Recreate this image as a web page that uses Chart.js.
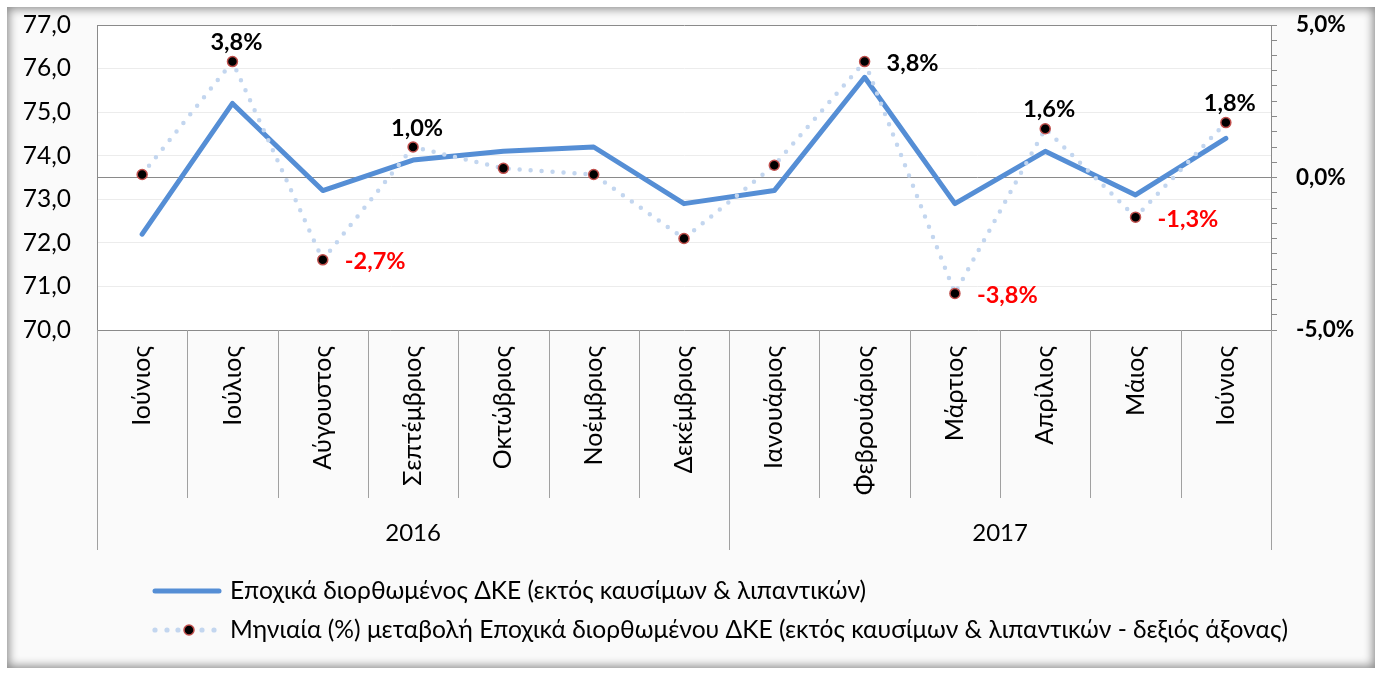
<!DOCTYPE html>
<html>
<head>
<meta charset="utf-8">
<script src="https://cdn.jsdelivr.net/npm/chart.js@4/dist/chart.umd.min.js"></script>
<style>
  html, body { margin: 0; padding: 0; background: #fff; }
  #frame {
    position: absolute; left: 7px; top: 7px; width: 1368px; height: 661px;
    background: #fafafa;
    box-shadow: inset 0 0 10px 2px rgba(0,0,0,0.45);
  }
  #frame canvas { position: absolute; left: 0; top: 0; }
</style>
</head>
<body>
<div id="frame"><canvas id="cpiChart" width="1368" height="661"></canvas></div>
<script>
// months on the category axis, and the year each one belongs to
const months = ['Ιούνιος', 'Ιούλιος', 'Αύγουστος', 'Σεπτέμβριος', 'Οκτώβριος', 'Νοέμβριος', 'Δεκέμβριος',
                'Ιανουάριος', 'Φεβρουάριος', 'Μάρτιος', 'Απρίλιος', 'Μάιος', 'Ιούνιος'];
const monthYears = ['2016', '2016', '2016', '2016', '2016', '2016', '2016',
                    '2017', '2017', '2017', '2017', '2017', '2017'];

// seasonally adjusted index (left axis) and monthly % change (right axis)
const cpiSa = [72.2, 75.2, 73.2, 73.9, 74.1, 74.2, 72.9, 73.2, 75.8, 72.9, 74.1, 73.1, 74.4];
const cpiChange = [0.1, 3.8, -2.7, 1.0, 0.3, 0.1, -2.0, 0.4, 3.8, -3.8, 1.6, -1.3, 1.8];

const seriesNames = [
  'Εποχικά διορθωμένος ΔΚΕ (εκτός καυσίμων & λιπαντικών)',
  'Μηνιαία (%) μεταβολή Εποχικά διορθωμένου ΔΚΕ (εκτός καυσίμων & λιπαντικών - δεξιός άξονας)'
];

// which % points carry a label, and where
const labelPos = [null, 'top', 'right', 'top', null, null, null, null, 'right', 'right', 'top', 'right', 'top'];

const FONT = 'Lato';
const AXIS = '#8a8a8a';
const SOLID = '#558ed5';
const DOTS = '#c3d6ef';

const fmtPct = v => v.toFixed(1).replace('.', ',') + '%';

const framePlugin = {
  id: 'frame',
  beforeDraw(chart) {
    const { ctx, chartArea: a } = chart;
    ctx.save();
    ctx.fillStyle = '#ffffff';
    ctx.fillRect(a.left, a.top, a.right - a.left, a.bottom - a.top);
    ctx.restore();
  },
  afterDraw(chart) {
    const { ctx, chartArea: a } = chart;
    const x = chart.scales.x;
    const step = x.getPixelForValue(1) - x.getPixelForValue(0);
    ctx.save();
    // separators of the two-level category axis
    ctx.strokeStyle = '#a0a0a0';
    ctx.lineWidth = 1;
    for (let b = 0; b <= months.length; b++) {
      const px = Math.round(x.getPixelForValue(0) - step / 2 + b * step) + 0.5;
      const yearEdge = b === 0 || b === months.length || monthYears[b] !== monthYears[b - 1];
      ctx.beginPath();
      ctx.moveTo(px, a.bottom);
      ctx.lineTo(px, a.bottom + (yearEdge ? 220 : 168));
      ctx.stroke();
    }
    // year labels
    ctx.fillStyle = '#000';
    ctx.font = '24px ' + FONT;
    ctx.textAlign = 'center';
    ctx.textBaseline = 'middle';
    let start = 0;
    for (let i = 1; i <= months.length; i++) {
      if (i === months.length || monthYears[i] !== monthYears[start]) {
        const cx = (x.getPixelForValue(start) + x.getPixelForValue(i - 1)) / 2;
        ctx.fillText(monthYears[start], cx, a.bottom + 203);
        start = i;
      }
    }
    // legend
    const lx = 146, ly1 = 584, ly2 = 623;
    ctx.lineCap = 'round';
    ctx.strokeStyle = SOLID;
    ctx.lineWidth = 5;
    ctx.beginPath(); ctx.moveTo(lx + 2, ly1); ctx.lineTo(lx + 66, ly1); ctx.stroke();
    ctx.fillStyle = DOTS;
    [2, 14, 25, 49, 61].forEach(d => { ctx.beginPath(); ctx.arc(lx + d, ly2, 2.6, 0, Math.PI * 2); ctx.fill(); });
    ctx.beginPath(); ctx.arc(lx + 36, ly2, 5, 0, Math.PI * 2);
    ctx.fillStyle = '#000'; ctx.fill();
    ctx.lineWidth = 1.5; ctx.strokeStyle = '#c0504d'; ctx.stroke();
    ctx.fillStyle = '#000';
    ctx.font = '24.6px ' + FONT;
    ctx.textAlign = 'left';
    ctx.fillText(seriesNames[0], lx + 77, ly1);
    ctx.fillText(seriesNames[1], lx + 77, ly2);
    ctx.restore();
  }
};

const pctLabels = {
  id: 'pctLabels',
  afterDatasetsDraw(chart) {
    const { ctx } = chart;
    const meta = chart.getDatasetMeta(0);
    ctx.save();
    ctx.font = 'bold 23.5px ' + FONT;
    ctx.textBaseline = 'middle';
    meta.data.forEach((pt, i) => {
      const pos = labelPos[i];
      if (!pos) return;
      const v = cpiChange[i];
      ctx.fillStyle = v < 0 ? '#ff0000' : '#000';
      if (pos === 'top') {
        ctx.textAlign = 'center';
        ctx.fillText(fmtPct(v), pt.x + 4, pt.y - 19);
      } else {
        ctx.textAlign = 'left';
        ctx.fillText(fmtPct(v), pt.x + 22, pt.y + 2);
      }
    });
    ctx.restore();
  }
};

const noPad = s => { s.paddingTop = 0; s.paddingBottom = 0; s.paddingLeft = 0; s.paddingRight = 0; };

new Chart(document.getElementById('cpiChart'), {
  type: 'line',
  data: {
    labels: months,
    datasets: [
      {
        label: seriesNames[1],
        data: cpiChange,
        yAxisID: 'y1',
        order: 0,
        borderColor: DOTS,
        borderWidth: 4.5,
        borderDash: [0, 11],
        borderCapStyle: 'round',
        pointRadius: 5,
        pointBackgroundColor: '#000',
        pointBorderColor: '#c0504d',
        pointBorderWidth: 1.5,
        tension: 0
      },
      {
        label: seriesNames[0],
        data: cpiSa,
        yAxisID: 'y',
        order: 1,
        borderColor: SOLID,
        borderWidth: 5,
        borderJoinStyle: 'round',
        borderCapStyle: 'round',
        pointRadius: 0,
        tension: 0
      }
    ]
  },
  options: {
    responsive: false,
    animation: false,
    layout: { padding: { top: 18, left: 0, right: 0, bottom: 0 } },
    plugins: {
      legend: { display: false },
      tooltip: { enabled: false }
    },
    scales: {
      x: {
        offset: true,
        grid: { color: 'transparent', drawTicks: false },
        border: { color: AXIS },
        ticks: {
          minRotation: 90, maxRotation: 90, autoSkip: false, padding: 16,
          color: '#000', font: { family: FONT, size: 25 }
        },
        afterFit(s) { s.height = 338; noPad(s); }
      },
      y: {
        position: 'left',
        min: 70, max: 77,
        grid: {
          color: c => (c.tick && c.tick.value === 77) ? AXIS : '#ececec',
          drawTicks: false
        },
        border: { color: AXIS },
        ticks: {
          stepSize: 1, padding: 26, color: '#000',
          font: { family: FONT, size: 24.5 },
          callback: v => v.toFixed(1).replace('.', ',')
        },
        afterFit(s) { s.width = 90; noPad(s); }
      },
      y1: {
        position: 'right',
        min: -5, max: 5,
        grid: {
          color: c => (c.tick && Math.abs(c.tick.value) < 1e-9) ? AXIS : 'transparent',
          tickColor: AXIS,
          tickLength: 6
        },
        border: { color: AXIS },
        ticks: {
          stepSize: 0.5, autoSkip: false, padding: 19, color: '#000',
          font: { family: FONT, size: 22.5, weight: 'bold' },
          callback: v => (Math.abs(v % 5) < 1e-9) ? fmtPct(v) : ''
        },
        afterFit(s) { s.width = 104; noPad(s); }
      }
    }
  },
  plugins: [framePlugin, pctLabels]
});
</script>
</body>
</html>
